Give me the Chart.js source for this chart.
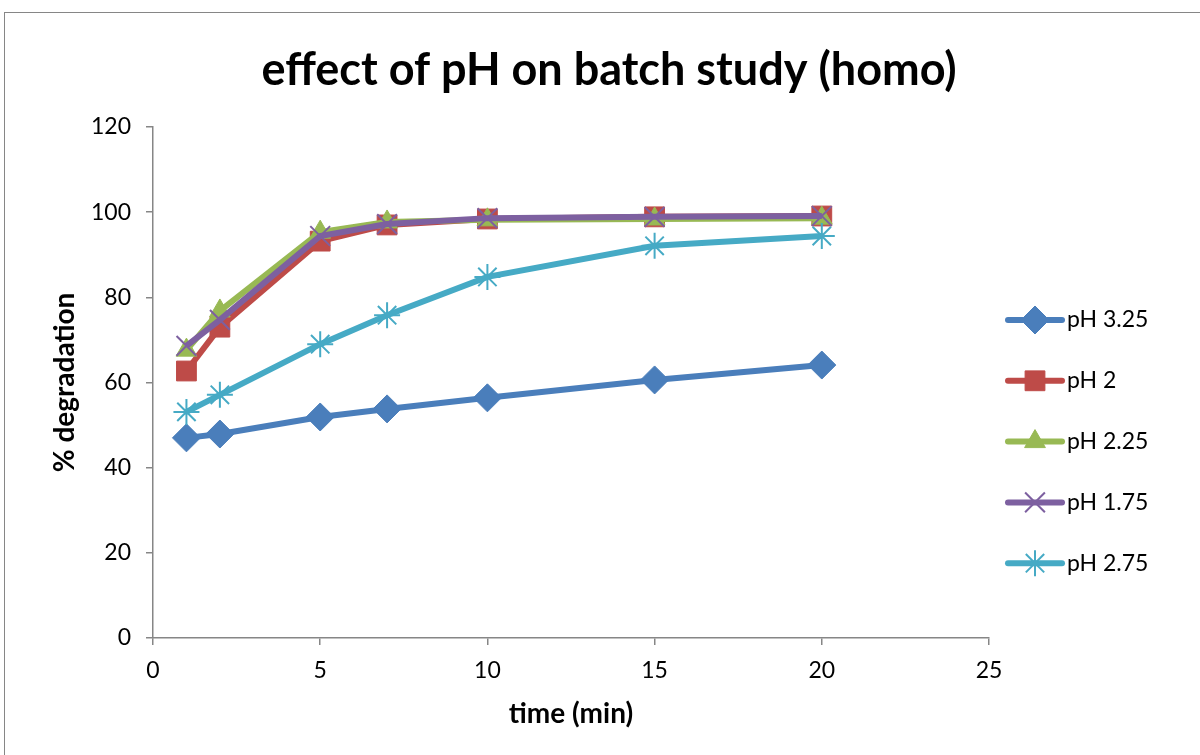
<!DOCTYPE html>
<html>
<head>
<meta charset="utf-8">
<script src="https://cdn.jsdelivr.net/npm/chart.js@4/dist/chart.umd.min.js"></script>
<style>
  html, body { margin: 0; padding: 0; background: #fff; }
  #wrap { width: 1200px; height: 755px; position: relative; }
</style>
</head>
<body>
<div id="wrap"><canvas id="c" width="1200" height="755"></canvas></div>
<script>
// Sampling times (min)
const times = [1, 2, 5, 7, 10, 15, 20];

// % degradation per pH
const ph325 = [47.0, 47.9, 51.9, 53.8, 56.4, 60.6, 64.1];
const ph2   = [62.7, 73.0, 93.2, 97.0, 98.4, 98.9, 99.1];
const ph225 = [67.6, 76.8, 95.3, 97.7, 98.2, 98.4, 98.6];
const ph175 = [68.6, 74.7, 94.4, 97.2, 98.6, 98.9, 99.1];
const ph275 = [53.1, 57.1, 69.0, 75.8, 84.8, 92.1, 94.4];

const seriesNames = ['pH 3.25', 'pH 2', 'pH 2.25', 'pH 1.75', 'pH 2.75'];
const seriesValues = [ph325, ph2, ph225, ph175, ph275];

const xTicks = [0, 5, 10, 15, 20, 25];
const yTicks = [0, 20, 40, 60, 80, 100, 120];

const FONT = 'Lato, "Open Sans", "Liberation Sans", sans-serif';
const AXIS_GREY = '#868686';

const styles = [
  { color: '#4A7EBB', point: 'rectRot',  radius: 14, order: 5, pbw: 1 },
  { color: '#BE4B48', point: 'rect',     radius: 14, order: 4, pbw: 1 },
  { color: '#98B954', point: 'triangle', radius: 12, order: 3, pbw: 1 },
  { color: '#7D60A0', point: 'crossRot', radius: 14, order: 2, pbw: 2 },
  { color: '#46AAC5', point: 'star',     radius: 13, order: 1, pbw: 2 }
];

const datasets = seriesNames.map((name, i) => ({
  label: name,
  data: times.map((t, j) => ({ x: t, y: seriesValues[i][j] })),
  borderColor: styles[i].color,
  backgroundColor: styles[i].color,
  pointBackgroundColor: styles[i].color,
  pointBorderColor: styles[i].color,
  pointBorderWidth: styles[i].pbw,
  borderWidth: 6,
  pointStyle: styles[i].point,
  pointRadius: styles[i].radius,
  pointHoverRadius: styles[i].radius,
  order: styles[i].order,
  tension: 0
}));

// Outer frame and chart title
const framePlugin = {
  id: 'frame',
  beforeDraw(chart) {
    const ctx = chart.ctx;
    ctx.save();
    ctx.fillStyle = '#fff';
    ctx.fillRect(0, 0, chart.width, chart.height);
    ctx.strokeStyle = AXIS_GREY;
    ctx.lineWidth = 1;
    ctx.strokeRect(4.5, 12.5, 1300, 900);
    ctx.fillStyle = '#000';
    ctx.font = 'bold 45px ' + FONT;
    ctx.textAlign = 'center';
    ctx.textBaseline = 'middle';
    ctx.fillText('effect of pH on batch study (homo)', 609, 70);
    ctx.restore();
  }
};

// Legend on the right: line segment with marker, then label
const legendPlugin = {
  id: 'sideLegend',
  afterDraw(chart) {
    const ctx = chart.ctx;
    const x0 = 1008, x1 = 1062, tx = 1067;
    const y0 = 320, step = 60.8;
    ctx.save();
    chart.data.datasets.forEach((ds, i) => {
      const y = y0 + i * step;
      ctx.strokeStyle = ds.borderColor;
      ctx.lineWidth = 6;
      ctx.lineCap = 'round';
      ctx.beginPath();
      ctx.moveTo(x0, y);
      ctx.lineTo(x1, y);
      ctx.stroke();
      ctx.lineCap = 'butt';
      ctx.fillStyle = ds.pointBackgroundColor;
      ctx.strokeStyle = ds.pointBorderColor;
      ctx.lineWidth = ds.pointBorderWidth;
      Chart.helpers.drawPoint(ctx, {
        pointStyle: ds.pointStyle,
        radius: ds.pointRadius,
        rotation: 0,
        borderWidth: ds.pointBorderWidth
      }, (x0 + x1) / 2, y);
      ctx.fillStyle = '#000';
      ctx.font = '23px ' + FONT;
      ctx.textAlign = 'left';
      ctx.textBaseline = 'middle';
      ctx.fillText(ds.label, tx, y);
    });
    ctx.restore();
  }
};

new Chart(document.getElementById('c'), {
  type: 'line',
  data: { datasets },
  plugins: [framePlugin, legendPlugin],
  options: {
    responsive: false,
    animation: false,
    layout: { padding: { top: 127, left: 0, right: 211, bottom: 0 } },
    plugins: {
      legend: { display: false },
      title: { display: false },
      tooltip: { enabled: false }
    },
    scales: {
      x: {
        type: 'linear',
        min: 0, max: 25,
        afterFit(scale) { scale.height = 755 - 638; },
        afterBuildTicks(scale) { scale.ticks = xTicks.map(v => ({ value: v })); },
        grid: { display: true, drawOnChartArea: false, drawTicks: true, tickLength: 7, color: AXIS_GREY, lineWidth: 1.5 },
        border: { display: true, color: AXIS_GREY, width: 1.5 },
        ticks: { color: '#000', font: { family: FONT, size: 23 }, padding: 12, maxRotation: 0 },
        title: { display: true, text: 'time (min)', color: '#000', font: { family: FONT, size: 28, weight: 'bold' }, padding: { top: 0, bottom: 24 } }
      },
      y: {
        type: 'linear',
        min: 0, max: 120,
        afterFit(scale) { scale.width = 153; },
        afterBuildTicks(scale) { scale.ticks = yTicks.map(v => ({ value: v })); },
        grid: { display: true, drawOnChartArea: false, drawTicks: true, tickLength: 7, color: AXIS_GREY, lineWidth: 1.5 },
        border: { display: true, color: AXIS_GREY, width: 1.5 },
        ticks: { color: '#000', font: { family: FONT, size: 23 }, padding: 15 },
        title: { display: true, text: '% degradation', color: '#000', font: { family: FONT, size: 28, weight: 'bold' }, padding: { top: 48, bottom: 0 } }
      }
    }
  }
});
</script>
</body>
</html>
